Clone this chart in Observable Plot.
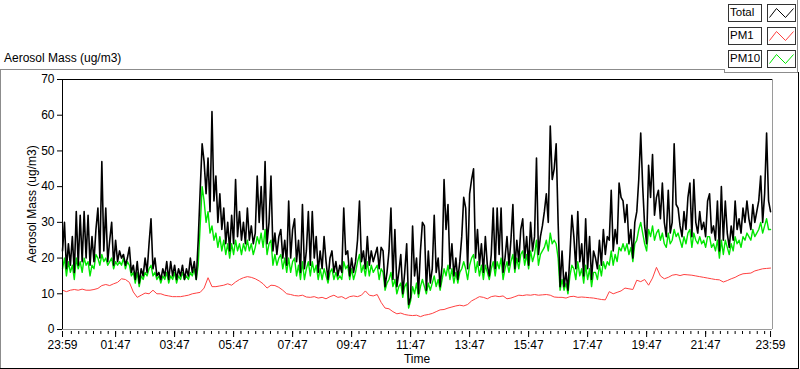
<!DOCTYPE html>
<html><head><meta charset="utf-8">
<script src="https://cdn.jsdelivr.net/npm/d3@7"></script>
<script src="https://cdn.jsdelivr.net/npm/@observablehq/plot@0.6"></script>
<style>
body{margin:0;background:#fff;}
#wrap{position:relative;width:800px;height:369px;overflow:hidden;font-family:"Liberation Sans",Arial,sans-serif;color:#000;background:#fff;}
#wrap svg{position:absolute;left:0;top:0;}
.ln{position:absolute;}
.g{background:#8c8c8c;}
.k{background:#000;}
.lbox{position:absolute;border:1px solid #333;box-sizing:border-box;font-size:11.5px;line-height:15px;padding-left:1px;background:#fff;white-space:nowrap;}
.sw{position:absolute;border:1px solid #333;box-sizing:border-box;background:#fff;}
.txt{position:absolute;white-space:nowrap;}
</style></head><body><div id="wrap"></div>
<script>
// ---- data (minutes since 23:59) ----
const totalStep = 4; // minutes between Total / PM10 samples
const totalValues = [
22,30,17,24,18,26,16,33,18,32,19,33,20,32,18,26,19,28,34,20,47,22,34,19,25,30,18,25,19,22,20,21,18,20,23,16,18,14,19,13,17,15,20,16,24,31,17,20,15,16,14,17,15,19,14,19,15,18,14,17,15,18,14,17,15,20,16,19,14,25,39,52,
47,38,48,33,61,36,43,30,38,28,34,24,30,22,32,24,42,26,33,25,30,24,34,25,29,24,27,43,30,40,28,47,24,30,43,22,27,21,26,28,20,25,18,36,20,28,31,19,25,16,35,17,22,33,18,33,20,26,16,22,17,26,19,14,20,22,16,19,15,18,16,34,
21,22,15,20,16,19,25,36,19,22,17,26,18,22,19,21,23,17,23,22,12,16,22,34,14,28,12,16,21,10,16,24,7,9,29,15,20,10,22,30,29,11,22,13,17,32,16,20,12,18,42,28,35,17,24,15,20,14,19,26,37,34,17,38,42,45,20,28,18,24,16,26,
18,15,21,34,17,34,21,34,16,20,26,18,25,35,17,25,19,28,31,20,26,18,30,22,26,48,21,26,29,33,38,30,57,42,45,52,30,12,22,12,16,11,21,32,26,17,33,19,24,15,31,17,26,14,22,20,17,25,18,28,21,26,25,39,22,28,24,41,37,36,30,35,
24,28,20,30,33,42,55,40,29,24,46,37,49,32,37,39,31,41,30,26,39,27,30,52,35,34,29,26,33,28,37,41,26,42,30,27,33,28,30,26,36,38,27,29,25,36,22,40,25,36,27,23,29,25,36,28,31,27,34,30,36,31,28,35,30,33,36,43,30,38,55,36,33
];
const pm10Values = [
17,20,15,19,16,18,14,20,17,19,16,20,18,19,15,18,17,21,20,18,21,19,20,18,19,20,17,19,18,19,18,20,17,19,18,15,16,13,16,12,15,14,16,15,17,18,15,16,14,15,13,15,14,16,13,15,14,16,13,15,14,16,14,15,14,16,15,17,14,18,29,40,
36,30,33,27,29,25,27,23,26,22,25,21,24,20,24,21,25,22,24,21,24,22,25,22,24,21,23,26,24,27,23,28,21,24,25,18,21,18,20,21,17,20,16,20,16,19,20,15,18,14,19,14,17,19,15,19,16,18,14,17,14,17,15,13,16,17,14,16,14,15,14,19,
17,18,14,17,14,16,19,21,16,18,15,19,15,18,16,17,18,14,17,16,11,13,14,16,12,14,10,12,13,9,12,13,6,8,12,10,13,9,12,14,12,10,13,11,13,15,12,14,11,14,17,15,18,14,17,13,16,13,16,17,19,17,14,18,20,21,16,19,15,18,14,18,
16,14,17,19,15,19,17,20,14,17,19,16,19,21,16,20,17,21,22,18,21,17,22,19,21,25,18,21,22,23,25,22,27,24,25,24,20,11,14,11,13,10,15,18,17,14,19,15,17,13,18,14,17,12,16,16,14,18,15,19,17,19,18,22,18,21,19,23,22,24,22,24,
21,23,19,24,25,28,30,27,24,22,28,26,29,25,27,28,25,27,24,23,27,24,25,28,26,27,25,23,26,24,27,28,23,27,25,24,26,24,25,23,26,26,23,24,22,25,20,25,21,25,23,21,24,22,26,24,25,23,26,25,27,26,25,28,26,27,28,30,27,29,31,28,28
];
const pm1Step = 8; // minutes between PM1 samples
const pm1Values = [
11,10.6,11,11.2,11,11.3,11,11,11.2,11.5,12.3,12.6,12.3,12.8,13.2,14.2,14,13.2,10.5,9,9.6,10.2,10,11,10,10,9.6,9.4,9.2,9.2,9.2,9.4,9.6,10,10.2,10.4,11.6,
14.5,12,12,12.2,12.4,12.8,12.4,13.3,14,14.5,14.8,14.6,14.2,13.6,12.8,11.6,12.4,12.3,11.8,11,10,9.8,9.5,9.4,9.6,9.1,9,9.2,8.8,9,8.6,9.2,9.6,9,9.2,8.6,
9.2,9.4,9.2,9.6,10.8,9.6,9.4,9.8,7.6,6,5.8,5,4.4,4.6,4.2,4,3.9,4,3.6,4,4.2,4.5,5,5.5,5.6,6,6.3,6.6,6.8,6.6,7,8,8.6,9.2,9,8.6,
9.2,9.4,9.2,9.4,8.6,8.8,9.2,9.6,9.5,9.7,9.6,9.8,9.6,9.7,9.8,9.6,9.1,9,9,8.8,9.2,9.3,9,9.1,9,8.9,8.8,8.6,8.4,8.3,10.6,10,10.4,10.8,11.6,
11.4,11.2,13.8,13.4,14,12.4,14.4,17.4,15,14.2,14.6,15.2,15.4,15.1,15.4,15.3,15.2,15,14.8,14.6,14.4,14.2,14,13.9,13.3,13.7,14.2,14.6,15.2,15.6,15.7,15.8,16.4,16.7,17,17.1,17.2
];
const seriesNames = ["Total", "PM1", "PM10"];
const seriesColors = ["#000000", "#ff4040", "#00e600"];
const xTickMinutes = [0,108,228,348,468,588,708,828,948,1068,1188,1308,1440];
const xTickLabels = ["23:59","01:47","03:47","05:47","07:47","09:47","11:47","13:47","15:47","17:47","19:47","21:47","23:59"];
const yTicks = [0,10,20,30,40,50,60,70];
const titleText = "Aerosol Mass (ug/m3)";
const yLabel = "Aerosol Mass (ug/m3)";
const xLabel = "Time";

const totalData = totalValues.map((v,i)=>({t:i*totalStep, v}));
const pm10Data = pm10Values.map((v,i)=>({t:i*totalStep, v}));
const pm1Data = pm1Values.map((v,i)=>({t:i*pm1Step, v}));
const minorTicks = d3.range(18, 1440, 15);

const wrap = document.getElementById("wrap");
const chart = Plot.plot({
  width: 800, height: 369,
  marginLeft: 62, marginRight: 28, marginTop: 79, marginBottom: 40,
  style: {background: "transparent", fontFamily: "'Liberation Sans', Arial, sans-serif", fontSize: "12px", color: "#000"},
  x: {domain: [0, 1444], axis: null},
  y: {domain: [0, 70], axis: null},
  marks: [
    Plot.ruleY([0], {stroke: "#9a9a9a"}),
    Plot.ruleX([1444], {stroke: "#9a9a9a"}),
    Plot.line(pm1Data, {x: "t", y: "v", stroke: seriesColors[1], strokeWidth: 1}),
    Plot.line(pm10Data, {x: "t", y: "v", stroke: seriesColors[2], strokeWidth: 1.4}),
    Plot.line(totalData, {x: "t", y: "v", stroke: seriesColors[0], strokeWidth: 1.6}),
    Plot.ruleY([70], {stroke: "#000"}),
    Plot.ruleX([0], {stroke: "#000"}),
    Plot.axisY({ticks: yTicks, tickSize: 5, tickPadding: 3, label: null}),
    Plot.axisX({ticks: xTickMinutes, tickFormat: d => xTickLabels[xTickMinutes.indexOf(d)], tickSize: 6, tickPadding: 3, dy: 2, label: null}),
    Plot.axisX({ticks: minorTicks, tickFormat: () => "", tickSize: 3, dy: 2, label: null})
  ]
});
wrap.appendChild(chart);

function el(cls, css, text) {
  const d = document.createElement("div");
  d.className = cls;
  Object.assign(d.style, css);
  if (text != null) d.textContent = text;
  wrap.appendChild(d);
  return d;
}
// outer frame lines
el("ln g", {left:"0px", top:"69px", width:"724px", height:"1px"});
el("ln g", {left:"0px", top:"69px", width:"1px", height:"300px"});
el("ln g", {left:"724px", top:"69px", width:"1px", height:"4px"});
el("ln g", {left:"724px", top:"72px", width:"74px", height:"1px"});
el("ln g", {left:"797px", top:"0px", width:"1px", height:"73px"});
el("ln k", {left:"798px", top:"72px", width:"1px", height:"297px"});
el("ln k", {left:"0px", top:"368px", width:"799px", height:"1px"});
// texts
el("txt", {left:"4px", top:"51px", fontSize:"12px"}, titleText);
el("txt", {left:"32px", top:"204px", fontSize:"12px", transform:"translate(-50%,-50%) rotate(-90deg)"}, yLabel);
el("txt", {left:"417px", top:"352px", fontSize:"12px", transform:"translateX(-50%)"}, xLabel);
// legend
const rowTops = [4, 27, 50];
seriesNames.forEach((name, i) => {
  el("lbox", {left:"728px", top: rowTops[i]+"px", width: "34px", height:"18px"}, name);
  const sw = el("sw", {left:"767px", top: rowTops[i]+"px", width:"29px", height:"18px"});
  sw.innerHTML = `<svg width="27" height="16" style="position:absolute;left:0;top:0"><polyline points="1.5,12.5 8.5,3.5 17.5,12.5 25.5,3.5" fill="none" stroke="${seriesColors[i]}" stroke-width="1"/></svg>`;
});
</script></body></html>
